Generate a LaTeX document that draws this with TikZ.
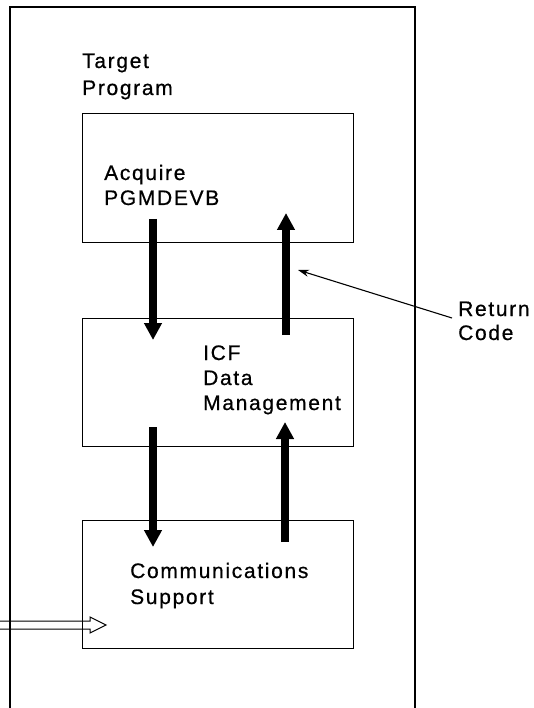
\documentclass[tikz,border=0pt]{standalone}
\usepackage{fontspec}
\setmainfont{Liberation Sans}[LetterSpace=8,FakeBold=0.6]
\usetikzlibrary{arrows.meta}
\begin{document}
\begin{tikzpicture}[x=1pt,y=-1pt,
  box/.style={draw, line width=1.3pt, anchor=north west, inner sep=0pt,
    minimum width=271pt, minimum height=128pt},
  lbl/.style={anchor=base west, inner sep=0pt, font=\fontsize{21}{27}\selectfont},
  flow/.style={line width=8pt, -{Triangle[width=17pt,length=17pt]}},
  thin/.style={line width=1.1pt}]
\useasboundingbox (0,0) rectangle (534,708);
% outer frame (open at the bottom)
\draw[line width=1.2pt] (10,708) -- (10,7) -- (415,7) -- (415,708);
% boxes
\node[box, minimum height=129pt] (b1) at (82,113) {};
\node[box] (b2) at (82,318) {};
\node[box] (b3) at (82,520) {};
% labels
\node[lbl] (t1) at (82,68) {Target};
\node[lbl] (t2) at (82,95) {Program};
\node[lbl] (a1) at (104,180) {Acquire};
\node[lbl] (a2) at (104,205) {PGMDEVB};
\node[lbl] (i1) at (203,360) {ICF};
\node[lbl] (i2) at (203,385) {Data};
\node[lbl] (i3) at (203,410) {Management};
\node[lbl] (c1) at (130,578) {Communications};
\node[lbl] (c2) at (130,604) {Support};
\node[lbl] (r1) at (458,316) {Return};
\node[lbl] (r2) at (458,340) {Code};
% arrow ends
\coordinate (d1s) at (153,219); \coordinate (d1e) at (153,340);
\coordinate (u1s) at (286,335); \coordinate (u1e) at (286,213);
\coordinate (d2s) at (153,427); \coordinate (d2e) at (153,547);
\coordinate (u2s) at (285,542); \coordinate (u2e) at (285,422);
\draw[flow] (d1s) -- (d1e);
\draw[flow] (u1s) -- (u1e);
\draw[flow] (d2s) -- (d2e);
\draw[flow] (u2s) -- (u2e);
% return code pointer
\coordinate (rcs) at (452,318);
\coordinate (rce) at (298,270);
\draw[thin, -{Stealth[length=11pt,width=7pt]}] (rcs) -- (rce);
% hollow double arrow at left
\coordinate (h1) at (106,625);
\draw[line width=1pt, line join=miter]
  (0,621) -- (90,621) -- (90,617) -- (h1) -- (90,633) -- (90,629) -- (0,629);
\end{tikzpicture}
\end{document}
